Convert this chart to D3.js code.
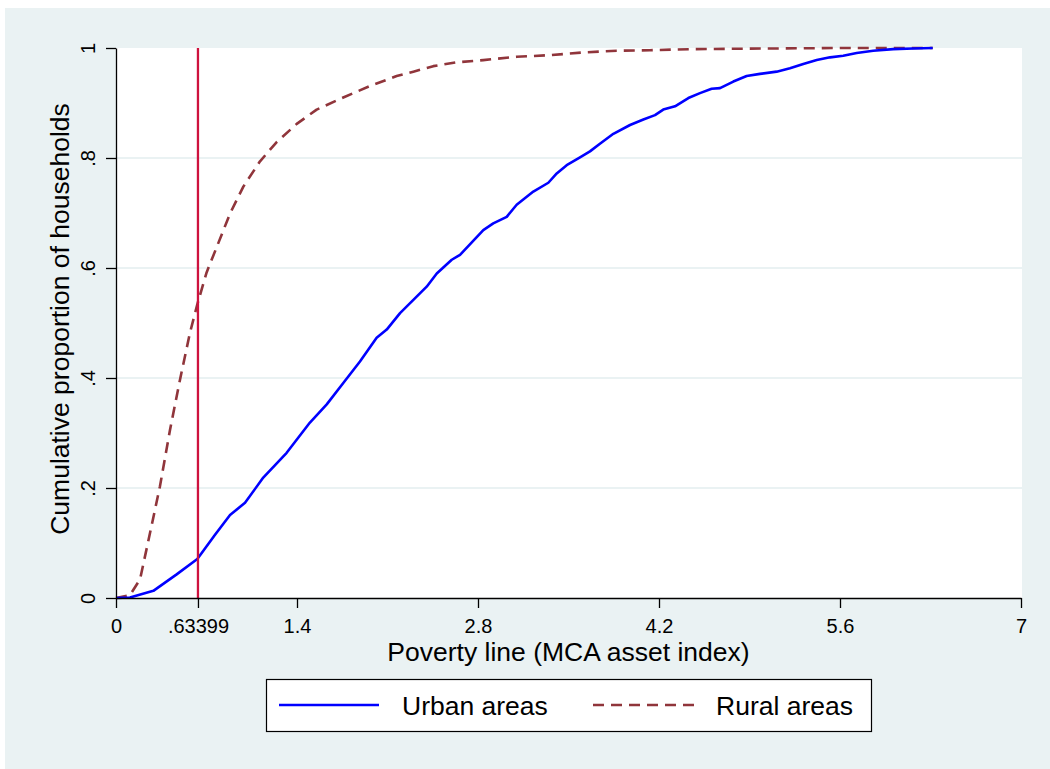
<!DOCTYPE html>
<html>
<head>
<meta charset="utf-8">
<script src="https://cdn.jsdelivr.net/npm/d3@7/dist/d3.min.js"></script>
<style>
  html, body { margin: 0; padding: 0; background: #ffffff; }
  svg { display: block; font-family: "Liberation Sans", Arial, Helvetica, sans-serif; }
</style>
</head>
<body>
<svg id="chart" width="1050" height="769"></svg>
<script>
// ---------------- DATA ----------------
const urbanX = [0, 0.108, 0.289, 0.469, 0.629, 0.766, 0.882, 0.998, 1.139, 1.320, 1.500, 1.630, 1.758, 1.887, 2.016, 2.094, 2.197, 2.403, 2.481, 2.597, 2.661, 2.841, 2.918, 3.022, 3.099, 3.228, 3.344, 3.409, 3.486, 3.589, 3.666, 3.743, 3.847, 3.976, 4.079, 4.169, 4.233, 4.324, 4.427, 4.517, 4.607, 4.672, 4.775, 4.878, 4.981, 5.110, 5.213, 5.316, 5.420, 5.523, 5.625, 5.729, 5.857, 6.012, 6.167, 6.317];
const urbanY = [0, 0.001, 0.013, 0.043, 0.071, 0.115, 0.151, 0.173, 0.219, 0.264, 0.319, 0.352, 0.391, 0.430, 0.473, 0.488, 0.518, 0.566, 0.590, 0.615, 0.624, 0.669, 0.681, 0.693, 0.715, 0.739, 0.755, 0.772, 0.787, 0.801, 0.812, 0.826, 0.844, 0.860, 0.870, 0.878, 0.888, 0.894, 0.909, 0.918, 0.926, 0.927, 0.939, 0.949, 0.953, 0.957, 0.963, 0.971, 0.978, 0.983, 0.986, 0.991, 0.995, 0.998, 0.999, 1.0];

const ruralX = [0, 0.108, 0.186, 0.263, 0.340, 0.418, 0.495, 0.572, 0.629, 0.701, 0.779, 0.882, 0.985, 1.114, 1.243, 1.398, 1.552, 1.758, 1.965, 2.171, 2.300, 2.454, 2.635, 2.841, 3.099, 3.357, 3.614, 3.873, 4.130, 4.465, 5.0, 5.6, 6.317];
const ruralY = [0, 0.005, 0.034, 0.118, 0.203, 0.306, 0.397, 0.482, 0.534, 0.592, 0.638, 0.699, 0.748, 0.794, 0.829, 0.862, 0.888, 0.910, 0.931, 0.949, 0.957, 0.967, 0.974, 0.978, 0.984, 0.987, 0.992, 0.995, 0.996, 0.998, 0.999, 1.0, 1.0];

const povertyLine = 0.63399;

const xTickValues = [0, 0.63399, 1.4, 2.8, 4.2, 5.6, 7];
const xTickLabels = ["0", ".63399", "1.4", "2.8", "4.2", "5.6", "7"];
const yTickValues = [0, 0.2, 0.4, 0.6, 0.8, 1];
const yTickLabels = ["0", ".2", ".4", ".6", ".8", "1"];
const yGridValues = [0.2, 0.4, 0.6, 0.8];

const seriesNames = ["Urban areas", "Rural areas"];
const xTitle = "Poverty line (MCA asset index)";
const yTitle = "Cumulative proportion of households";

// ---------------- LAYOUT ----------------
const svg = d3.select("#chart");
const bg = "#eaf2f3";
const plot = { left: 116, right: 1021, top: 48, bottom: 598 };

svg.append("rect").attr("x", 5).attr("y", 8).attr("width", 1045).attr("height", 761).attr("fill", bg);
svg.append("rect").attr("x", plot.left).attr("y", plot.top)
  .attr("width", plot.right - plot.left + 1).attr("height", plot.bottom - plot.top)
  .attr("fill", "#ffffff");

const x = d3.scaleLinear().domain([0, 7]).range([plot.left, plot.right]);
const y = d3.scaleLinear().domain([0, 1]).range([plot.bottom, plot.top]);

// gridlines
svg.append("g").selectAll("line").data(yGridValues).join("line")
  .attr("x1", plot.left).attr("x2", plot.right + 1)
  .attr("y1", d => y(d)).attr("y2", d => y(d))
  .attr("stroke", bg).attr("stroke-width", 2.2);

// series
const urban = urbanX.map((v, i) => [v, urbanY[i]]);
const rural = ruralX.map((v, i) => [v, ruralY[i]]);
const line = d3.line().x(d => x(d[0])).y(d => y(d[1]));

svg.append("path").datum(rural).attr("d", line)
  .attr("fill", "none").attr("stroke", "#90353b").attr("stroke-width", 2.6)
  .attr("stroke-dasharray", "11,7").attr("stroke-linejoin", "round");

svg.append("path").datum(urban).attr("d", line)
  .attr("fill", "none").attr("stroke", "#0000ff").attr("stroke-width", 2.6)
  .attr("stroke-linejoin", "round");

// poverty line
svg.append("line")
  .attr("x1", x(povertyLine)).attr("x2", x(povertyLine))
  .attr("y1", y(0)).attr("y2", y(1))
  .attr("stroke", "#ce123e").attr("stroke-width", 2.3);

// axes
const xAxis = d3.axisBottom(x).tickValues(xTickValues)
  .tickFormat((d, i) => xTickLabels[i]).tickSize(10).tickSizeOuter(0).tickPadding(6);
const gx = svg.append("g").attr("transform", `translate(0,${plot.bottom})`).call(xAxis);
gx.select(".domain").attr("stroke", "#000").attr("stroke-width", 1.3);
gx.selectAll(".tick line").attr("stroke", "#000").attr("stroke-width", 1.3);
gx.selectAll(".tick text").attr("fill", "#000").style("font-size", "20px")
  .attr("y", 0).attr("dy", 0).attr("transform", "translate(0,34.5)");

const yAxis = d3.axisLeft(y).tickValues(yTickValues)
  .tickFormat((d, i) => yTickLabels[i]).tickSize(10).tickSizeOuter(0);
const gy = svg.append("g").attr("transform", `translate(${plot.left},0)`).call(yAxis);
gy.select(".domain").attr("stroke", "#000").attr("stroke-width", 1.3);
gy.selectAll(".tick line").attr("stroke", "#000").attr("stroke-width", 1.3);
gy.selectAll(".tick text").attr("fill", "#000").style("font-size", "20px")
  .attr("x", 0).attr("dy", 0).attr("text-anchor", "middle")
  .attr("transform", "translate(-21,0) rotate(-90)");

// axis titles
svg.append("text").attr("x", (plot.left + plot.right) / 2).attr("y", 661)
  .attr("text-anchor", "middle").style("font-size", "26.5px").attr("fill", "#000")
  .text(xTitle);
svg.append("text").attr("transform", `translate(69,${(plot.top + plot.bottom) / 2 - 4}) rotate(-90)`)
  .attr("text-anchor", "middle").style("font-size", "26.5px").attr("fill", "#000")
  .text(yTitle);

// legend
const lg = svg.append("g");
lg.append("rect").attr("x", 266.5).attr("y", 679.5).attr("width", 605).attr("height", 52)
  .attr("fill", "#fff").attr("stroke", "#000").attr("stroke-width", 1.2);
lg.append("line").attr("x1", 279).attr("x2", 379).attr("y1", 705).attr("y2", 705)
  .attr("stroke", "#0000ff").attr("stroke-width", 2.6);
lg.append("text").attr("x", 402).attr("y", 715).style("font-size", "26.5px").attr("fill", "#000")
  .text(seriesNames[0]);
lg.append("line").attr("x1", 593).attr("x2", 694).attr("y1", 705).attr("y2", 705)
  .attr("stroke", "#90353b").attr("stroke-width", 2.6).attr("stroke-dasharray", "11,7");
lg.append("text").attr("x", 716).attr("y", 715).style("font-size", "26.5px").attr("fill", "#000")
  .text(seriesNames[1]);
</script>
</body>
</html>
